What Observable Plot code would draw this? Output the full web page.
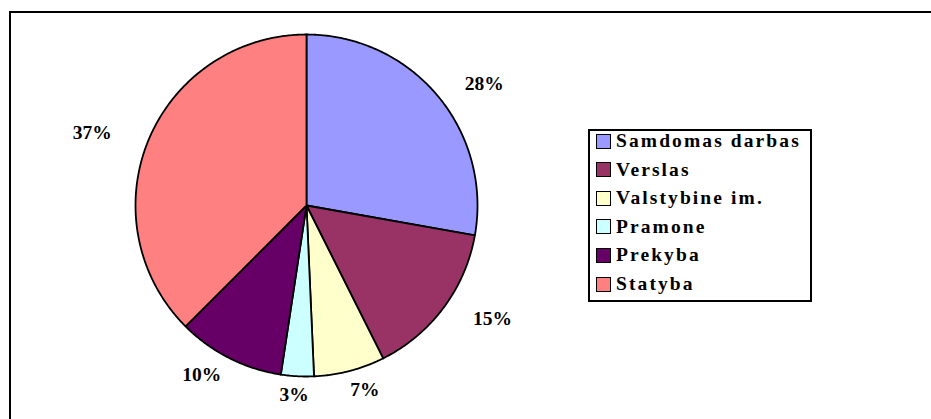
<!DOCTYPE html>
<html><head><meta charset="utf-8">
<script src="https://cdn.jsdelivr.net/npm/d3@7"></script>
<script src="https://cdn.jsdelivr.net/npm/@observablehq/plot@0.6"></script>
<style>
html,body{margin:0;padding:0;background:#fff;overflow:hidden;}
#wrap{position:relative;width:931px;height:419px;overflow:hidden;font-family:"Liberation Serif","Times New Roman",serif;}
#frame{position:absolute;left:9px;top:11px;width:1000px;height:600px;border:2px solid #000;box-sizing:border-box;pointer-events:none;}
#chart{position:absolute;left:0;top:0;}
#legend{position:absolute;left:588px;top:129px;width:224px;height:173px;border:2px solid #000;box-sizing:border-box;background:#fff;}
.row{position:absolute;left:6px;height:20px;display:flex;align-items:center;font-weight:bold;font-size:19.5px;letter-spacing:2.1px;white-space:nowrap;}
.sw{width:13px;height:13px;border:1.5px solid #000;margin-right:5px;flex:none;}
</style></head>
<body><div id="wrap"><div id="frame"></div><div id="chart"></div><div id="legend"></div></div>
<script>
const categories = ["Samdomas darbas","Verslas","Valstybine im.","Pramone","Prekyba","Statyba"];
const shares = [27.8, 14.8, 6.7, 3.1, 10.1, 37.5];
const pctLabels = ["28%","15%","7%","3%","10%","37%"];
const colors = ["#9999FF","#993366","#FFFFCC","#CCFFFF","#660066","#FF8080"];

const total = d3.sum(shares);
let cum = 0;
const slices = categories.map((name, i) => {
  const a0 = cum / total * 2 * Math.PI;
  cum += shares[i];
  const a1 = cum / total * 2 * Math.PI;
  return {name, a0, a1, mid: (a0 + a1) / 2, label: pctLabels[i]};
});
const points = [];
for (const s of slices) {
  points.push({name: s.name, x: 0, y: 0});
  const n = Math.max(2, Math.ceil((s.a1 - s.a0) / (Math.PI / 360)));
  for (let k = 0; k <= n; k++) {
    const a = s.a0 + (s.a1 - s.a0) * k / n;
    points.push({name: s.name, x: Math.sin(a), y: Math.cos(a)});
  }
}
const rx = 232 / 171, ry = 190 / 171;
const labels = slices.map(s => ({label: s.label, x: rx * Math.sin(s.mid), y: ry * Math.cos(s.mid)}));

const chart = Plot.plot({
  width: 931, height: 419, margin: 0,
  style: {fontFamily: "Liberation Serif, serif", background: "transparent", overflow: "visible"},
  x: {domain: [-1, 1], range: [135, 477], axis: null},
  y: {domain: [-1, 1], range: [376, 34], axis: null},
  color: {domain: categories, range: colors},
  marks: [
    Plot.line(points, {x: "x", y: "y", z: "name", fill: "name", stroke: "#000", strokeWidth: 1.8, curve: "linear-closed", strokeLinejoin: "round"}),
    Plot.text(labels, {x: "x", y: "y", text: "label", fontSize: 19.5, fontWeight: "bold", fill: "#000"})
  ]
});
document.getElementById("chart").appendChild(chart);

const legend = document.getElementById("legend");
categories.forEach((c, i) => {
  const row = document.createElement("div");
  row.className = "row";
  row.style.top = (141 - 131 - 10 + i * 28.6) + "px";
  const sw = document.createElement("span");
  sw.className = "sw";
  sw.style.background = colors[i];
  const t = document.createElement("span");
  t.textContent = c;
  row.appendChild(sw); row.appendChild(t);
  legend.appendChild(row);
});
</script></body></html>
